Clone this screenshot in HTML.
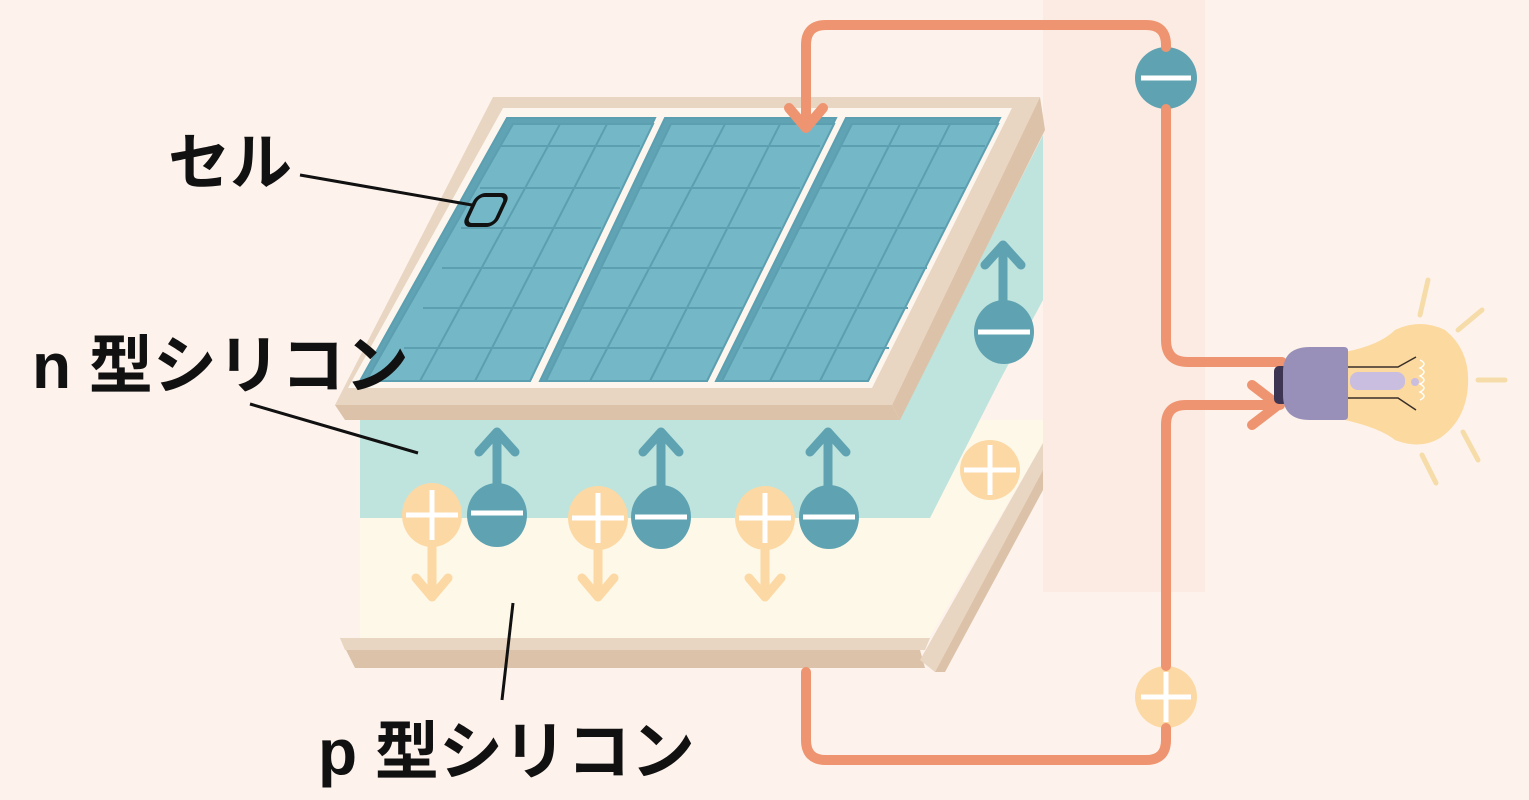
<!DOCTYPE html>
<html><head><meta charset="utf-8"><style>
html,body{margin:0;padding:0;background:#fdf3ec;}
svg{display:block}
text{font-family:"Liberation Sans","Noto Sans CJK JP",sans-serif;font-weight:bold;fill:#111}
</style></head><body>
<svg width="1529" height="800" viewBox="0 0 1529 800" xmlns="http://www.w3.org/2000/svg">
<rect width="1529" height="800" fill="#fdf3ec"/>
<rect x="1043" y="0" width="162" height="592" fill="#fcebe3"/>
<polygon points="360,420 1043,420 1043,443 925,645 360,645" fill="#fef8e8"/>
<polygon points="360,418 900,418 1043,135 1043,300 1000,380 930,518 360,518" fill="#bfe3dd"/>
<polygon points="340,638 930,638 920,650 925,668 355,668" fill="#dcc2a8"/>
<polygon points="340,638 930,638 925,650 345,650" fill="#e8d5c2"/>
<polygon points="1043,443 1043,470 935,672 920,660" fill="#e8d5c2"/>
<polygon points="1043,470 1043,490 945,672 935,672" fill="#dcc2a8"/>
<polygon points="1040,97 1045,130 900,420 892,405" fill="#dcc2a8"/>
<polygon points="335,405 892,405 900,420 345,420" fill="#dcc2a8"/>
<polygon points="493,97 1040,97 892,405 335,405" fill="#e8d5c2"/>
<polygon points="503,108 1012,108 872,388 348,388" fill="#fdf6ee"/>
<g stroke="#5c9fb0" stroke-width="2" fill="#74b8c8">
<polygon points="507,118 655,118 530,381 360,381" fill="#5fa3b4"/>
<polygon points="513,124 653,124 530,381 366,381"/>
<polygon points="665,118 836,118 707,381 540,381" fill="#5fa3b4"/>
<polygon points="671,124 834,124 707,381 546,381"/>
<polygon points="846,118 1000,118 868,381 716,381" fill="#5fa3b4"/>
<polygon points="852,124 998,124 868,381 722,381"/>
</g>
<g stroke="#5c9fb0" stroke-width="2" fill="none">
<path d="M500,146H640M480,188H620M461,228H601M442,268H582M423,308H563M404,348H544"/>
<path d="M658,146H820M638,188H800M619,228H781M600,268H762M581,308H743M562,348H724"/>
<path d="M839,146H985M819,188H965M800,228H946M781,268H927M762,308H908M743,348H889"/>
<path d="M560,124L420,381M607,124L475,381"/>
<path d="M725,124L590,381M780,124L650,381"/>
<path d="M900,124L770,381M950,124L820,381"/>
</g>
<rect x="-15" y="-15" width="30" height="30" rx="7" transform="translate(486,210) skewX(-25)" fill="none" stroke="#111" stroke-width="4"/>
<g stroke="#111" stroke-width="3">
<line x1="300" y1="175" x2="472" y2="205"/>
<line x1="250" y1="404" x2="418" y2="453"/>
<line x1="513" y1="603" x2="502" y2="700"/>
</g>
<g stroke="#5fa3b2" stroke-width="9" fill="none" stroke-linecap="round" stroke-linejoin="round">
<path d="M497,490V432M479,452L497,432L515,452"/>
<path d="M661,490V432M643,452L661,432L679,452"/>
<path d="M828,490V432M810,452L828,432L846,452"/>
<path d="M1003,305V245M985,265L1003,245L1021,265"/>
</g>
<g stroke="#fcd9a4" stroke-width="9" fill="none" stroke-linecap="round" stroke-linejoin="round">
<path d="M432,540V595M416,578L432,597L448,578"/>
<path d="M598,540V595M582,578L598,597L614,578"/>
<path d="M765,540V595M749,578L765,597L781,578"/>
</g>
<g fill="#fcd9a4">
<ellipse cx="432" cy="515" rx="30" ry="32"/>
<ellipse cx="598" cy="518" rx="30" ry="32"/>
<ellipse cx="765" cy="518" rx="30" ry="32"/>
<circle cx="990" cy="470" r="30"/>
<circle cx="1166" cy="697" r="31"/>
</g>
<g fill="#5fa3b2">
<ellipse cx="497" cy="515" rx="30" ry="32"/>
<ellipse cx="661" cy="517" rx="30" ry="32"/>
<ellipse cx="829" cy="517" rx="30" ry="32"/>
<ellipse cx="1004" cy="332" rx="30" ry="32"/>
<circle cx="1166" cy="78" r="31"/>
</g>
<g stroke="#fff" stroke-width="5">
<path d="M406,515H458M432,490V540"/>
<path d="M572,518H624M598,493V543"/>
<path d="M739,518H791M765,493V543"/>
<path d="M964,470H1016M990,445V495"/>
<path d="M1141,697H1191M1166,672V722"/>
<path d="M471,513H523M635,517H687M803,517H855M978,332H1030M1141,78H1191"/>
</g>
<g stroke="#ef9470" stroke-width="10" fill="none" stroke-linecap="round" stroke-linejoin="round">
<path d="M806,125V45Q806,25 826,25H1146Q1166,25 1166,45V47"/>
<path d="M1166,109V340Q1166,362 1188,362H1282"/>
<path d="M789,108L806,128L823,108"/>
<path d="M1280,405H1186Q1166,405 1166,425V666"/>
<path d="M1252,385L1278,405L1252,425"/>
<path d="M1166,728V740Q1166,760 1146,760H826Q806,760 806,740V672"/>
</g>
<g stroke="#f6dca8" stroke-width="5" stroke-linecap="round">
<line x1="1428" y1="280" x2="1420" y2="315"/>
<line x1="1482" y1="310" x2="1458" y2="330"/>
<line x1="1478" y1="380" x2="1505" y2="380"/>
<line x1="1463" y1="432" x2="1478" y2="460"/>
<line x1="1422" y1="455" x2="1436" y2="483"/>
</g>
<path d="M1345,352 Q1380,345 1395,330 Q1420,318 1445,330 Q1470,350 1468,385 Q1466,420 1440,438 Q1420,450 1395,440 Q1380,428 1345,420Z" fill="#fcd99e"/>
<rect x="1350" y="372" width="55" height="18" rx="8" fill="#c9bde0"/>
<circle cx="1415" cy="382" r="4" fill="#c9bde0"/>
<g stroke="#3a2f2a" stroke-width="1.5" fill="none">
<path d="M1348,367H1398L1416,357M1348,398H1398L1416,410"/>
</g>
<path d="M1420,360q8,4 0,8q8,4 0,8q8,4 0,8q8,4 0,8q8,4 0,8" stroke="#fff" stroke-width="1.5" fill="none"/>
<rect x="1274" y="366" width="14" height="38" rx="5" fill="#3e3552"/>
<path d="M1310,347H1344Q1348,347 1348,351V416Q1348,420 1344,420H1310Q1283,420 1283,395V372Q1283,347 1310,347Z" fill="#9890b8"/>
<text x="168" y="184" font-size="62">セル</text>
<text x="32" y="388" font-size="64">n 型シリコン</text>
<text x="318" y="774" font-size="64">p 型シリコン</text>
</svg>
</body></html>
